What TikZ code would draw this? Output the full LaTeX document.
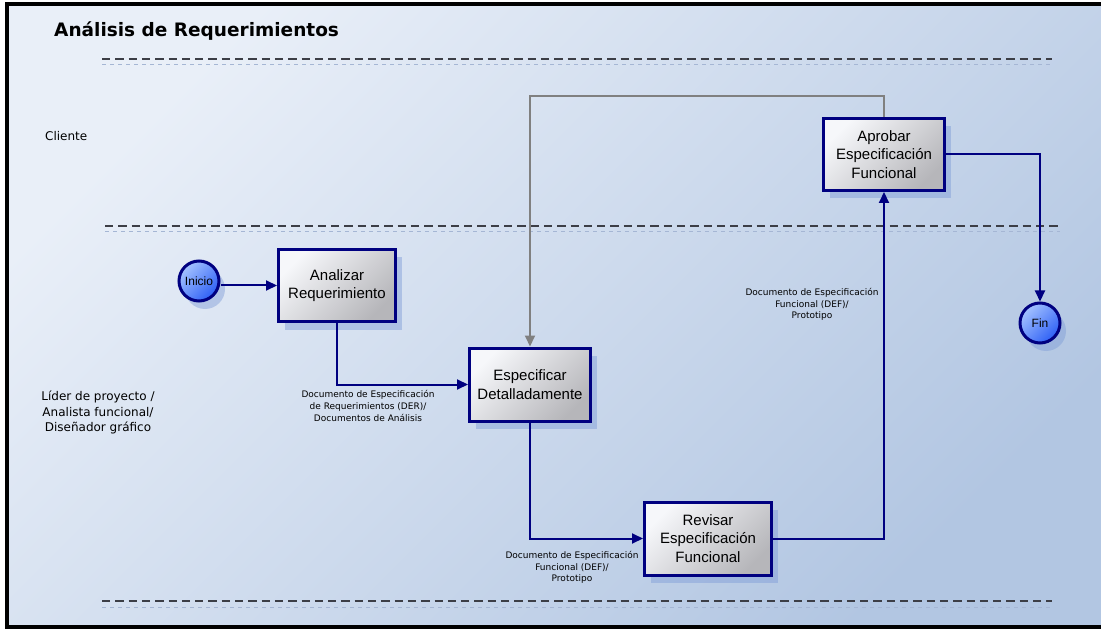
\documentclass[tikz,border=0pt]{standalone}
\usepackage{fontspec}
\setmainfont{DejaVu Sans}
\newfontfamily\arialfont{Liberation Sans}
\usetikzlibrary{arrows.meta,shadows}

\definecolor{navyline}{RGB}{0,0,128}
\definecolor{backline}{RGB}{128,128,128}
\definecolor{laneline}{RGB}{60,62,70}
\definecolor{laneghost}{RGB}{165,182,212}
\definecolor{bgtop}{RGB}{233,239,248}
\definecolor{bgbot}{RGB}{178,198,226}
\definecolor{boxlight}{RGB}{246,247,250}
\definecolor{boxdark}{RGB}{182,182,186}
\definecolor{balllight}{RGB}{165,195,255}
\definecolor{balldark}{RGB}{45,95,245}
\definecolor{shadowblue}{RGB}{125,155,215}

\tikzset{
  task/.style={draw=navyline, line width=3pt, align=center, inner sep=2pt,
    font=\arialfont\fontsize{15}{18.5}\selectfont,
    left color=boxlight, right color=boxdark, shading angle=45,
    drop shadow={shadow xshift=6pt, shadow yshift=-8pt, fill=shadowblue, opacity=0.45}},
  event/.style={circle, draw=navyline, line width=3pt, minimum size=40pt, inner sep=0pt,
    font=\arialfont\fontsize{12}{14}\selectfont,
    left color=balllight, right color=balldark, shading angle=45,
    drop shadow={shadow xshift=6pt, shadow yshift=-8pt, fill=shadowblue, opacity=0.45}},
  flow/.style={draw=navyline, line width=2pt, -{Triangle[length=11pt,width=10pt]}},
  backflow/.style={draw=backline, line width=2pt, -{Triangle[length=11pt,width=10pt]}},
  lanesep/.style={draw=laneline, line width=1.5pt, dash pattern=on 8.3pt off 5pt},
  laneshade/.style={draw=laneghost, line width=1pt, dash pattern=on 4pt off 4pt},
  doclabel/.style={align=center, inner sep=0pt, font=\fontsize{9}{11.8}\selectfont},
  lanelabel/.style={align=center, inner sep=0pt, font=\fontsize{12}{15.5}\selectfont},
}

\begin{document}
\begin{tikzpicture}[x=1pt,y=-1pt]
\useasboundingbox (0,0) rectangle (1101,631);

% frame with diagonal background gradient
\path[left color=bgtop, right color=bgbot, shading angle=45]
  (7,4) rectangle (1106,627);
\draw[line width=3.5pt, black] (7,4) rectangle (1106,627);

% title
\node[anchor=base west, inner sep=0pt, font=\fontsize{18.5}{22}\selectfont\bfseries]
  (title) at (54,36.5) {Análisis de Requerimientos};

% swimlane separators
\coordinate (sepAw) at (102,59);   \coordinate (sepAe) at (1052,59);
\coordinate (sepBw) at (105,226);  \coordinate (sepBe) at (1060,226);
\coordinate (sepCw) at (102,601);  \coordinate (sepCe) at (1052,601);
\draw[laneshade] ([yshift=-6pt]sepAw) -- ([yshift=-6pt]sepAe);
\draw[laneshade] ([yshift=-6pt]sepBw) -- ([yshift=-6pt]sepBe);
\draw[laneshade] ([yshift=-6pt]sepCw) -- ([yshift=-6pt]sepCe);
\draw[lanesep] (sepAw) -- (sepAe);
\draw[lanesep] (sepBw) -- (sepBe);
\draw[lanesep] (sepCw) -- (sepCe);

% lane names
\node[lanelabel, anchor=west] (laneCliente) at (45,136) {Cliente};
\node[lanelabel] (laneLider) at (98,412.5)
  {Líder de proyecto /\\Analista funcional/\\Diseñador gráfico};

% activities and events
\node[event] (ini) at (199,281) {Inicio};
\node[task, minimum width=117pt, minimum height=72pt] (ana) at (337,285.5)
  {Analizar\\Requerimiento};
\node[task, minimum width=121pt, minimum height=73pt] (esp) at (530,384.5)
  {Especificar\\Detalladamente};
\node[task, minimum width=127pt, minimum height=73pt] (rev) at (708,538.5)
  {Revisar\\Especificación\\Funcional};
\node[task, minimum width=121pt, minimum height=72pt] (apr) at (884,154.5)
  {Aprobar\\Especificación\\Funcional};
\node[event] (fin) at (1040,323) {Fin};

% sequence flows
\draw[flow] (ini.east |- ana.west) -- (ana.west);
\draw[flow] (ana.south) |- (esp.west);
\draw[flow] (esp.south) |- (rev.west);
\draw[flow] (rev.east) -| (apr.south);
\draw[flow] (apr.east) -| (fin.north);
\draw[backflow] (apr.north) -- ++(0,-21) -| (esp.north);

% document labels
\node[doclabel] (docDER) at (368,406)
  {Documento de Especificación\\de Requerimientos (DER)/\\Documentos de Análisis};
\node[doclabel] (docDEFa) at (572,567.5)
  {Documento de Especificación\\Funcional (DEF)/\\Prototipo};
\node[doclabel] (docDEFb) at (812,304.5)
  {Documento de Especificación\\Funcional (DEF)/\\Prototipo};
\end{tikzpicture}
\end{document}
